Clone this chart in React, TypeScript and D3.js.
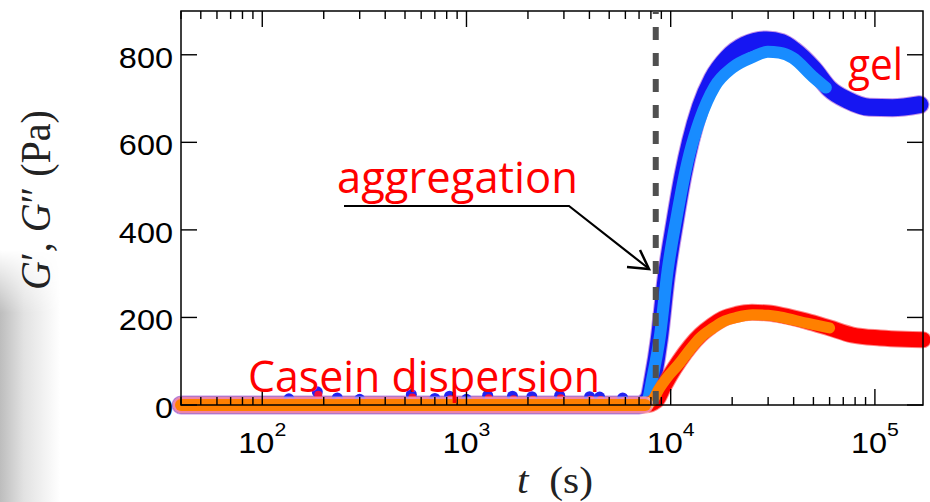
import React from "react";
import * as d3 from "d3";

// G' (two runs) and G'' (two runs), time in seconds, moduli in Pa
const gpDarkT = [40, 1000, 7000, 7800, 8200, 8800, 9500, 10500, 11500, 12500, 14000, 16000, 19000, 23000, 29500, 35000, 40000, 50000, 60000, 73000, 94000, 122000, 166000];
const gpDarkV = [0, 0, 0, 15, 62, 152, 290, 420, 525, 602, 682, 745, 793, 822, 834, 828, 811, 768, 722, 697, 680, 679, 686];

const gpLightT = [40, 1000, 7000, 7700, 8160, 8840, 9670, 10700, 11850, 12400, 13880, 16400, 20000, 25200, 29900, 34000, 39600, 49700, 57500];
const gpLightV = [0, 0, 0, 12, 64, 155, 309, 430, 537, 576, 651, 727, 770, 795, 807, 805, 793, 750, 725];

const gppRedT = [40, 1000, 7500, 8500, 9200, 10000, 11000, 12500, 14000, 16000, 18000, 21000, 25000, 30000, 35000, 46000, 60000, 77500, 106000, 140000, 172000];
const gppRedV = [0, 0, 0, 10, 40, 70, 100, 135, 160, 182, 197, 207, 212, 210, 205, 192, 176, 160, 153, 150, 149];

const gppOrangeT = [40, 1000, 7500, 8200, 8700, 9500, 11070, 12500, 13880, 16000, 18000, 21000, 25200, 30000, 34200, 46400, 60000];
const gppOrangeV = [0, 0, 0, 12, 34, 60, 96, 128, 153, 175, 190, 200, 206, 205, 201, 187, 176];

// scattered points above the baseline before aggregation
const noiseT = [135, 186, 233, 300, 537, 700, 826, 1000, 1270, 1680, 2090, 2860, 4010, 4490, 5820];
const noiseV = [14, 30, 16, 13, 24, 15, 20, 13, 22, 20, 19, 22, 19, 18, 16];

const yTicks = [0, 200, 400, 600, 800];
const xMajor = [100, 1000, 10000, 100000];
const xMajorExp = ["2", "3", "4", "5"];
const aggregationT = 8450;

const W = 930;
const H = 502;
const left = 181, right = 923, top = 11, bottom = 405;

export default function App() {
  const x = d3.scaleLog().domain([40, 172000]).range([left, right]);
  const y = d3.scaleLinear().domain([0, 900]).range([bottom, top]);

  const path = (ts: number[], vs: number[]) =>
    d3
      .line<number>()
      .x((_, i) => x(ts[i]))
      .y((_, i) => y(vs[i]))
      .curve(d3.curveMonotoneX)(ts) || "";

  const minor = x.ticks().filter((t) => !xMajor.includes(t));

  const numFont = "'Liberation Sans', Arial, sans-serif";
  const serif = "'Liberation Serif', 'DejaVu Serif', serif";
  const annFont = "'Open Sans', 'Noto Sans', sans-serif";

  // flat part before aggregation (first three points of the G'' run)
  const base = path(gppOrangeT.slice(0, 3), gppOrangeV.slice(0, 3));

  return (
    <svg
      width={W}
      height={H}
      style={{ position: "absolute", left: 0, top: 0, background: "#fff" }}
    >
      <defs>
        <linearGradient id="shadeH" x1="0" x2="1" y1="0" y2="0">
          <stop offset="0%" stopColor="#bdbdbd" />
          <stop offset="40%" stopColor="#e2e2e2" />
          <stop offset="100%" stopColor="#ffffff" />
        </linearGradient>
        <linearGradient id="shadeV" x1="0" x2="0" y1="0" y2="1">
          <stop offset="0%" stopColor="#000" />
          <stop offset="25%" stopColor="#fff" />
          <stop offset="100%" stopColor="#fff" />
        </linearGradient>
        <mask id="shadeMask">
          <rect x={0} y={250} width={60} height={252} fill="url(#shadeV)" />
        </mask>
      </defs>
      <rect x={0} y={250} width={60} height={252} fill="url(#shadeH)" mask="url(#shadeMask)" />

      {/* data bands */}
      <g fill="none" strokeLinecap="round" strokeLinejoin="round">
        <path d={path(gpDarkT, gpDarkV)} stroke="#8a2ad0" strokeWidth={19} opacity={0.5} />
        <path d={path(gpDarkT, gpDarkV)} stroke="#1616f2" strokeWidth={17} />
        <path d={path(gpLightT, gpLightV)} stroke="#188cff" strokeWidth={12} />
        <path d={path(gppRedT, gppRedV)} stroke="#ff3030" strokeWidth={17} opacity={0.6} />
        <path d={path(gppRedT, gppRedV)} stroke="#ff0000" strokeWidth={15} />
        <path d={path(gppOrangeT, gppOrangeV)} stroke="#ff8000" strokeWidth={11} />
      </g>
      {/* scattered points on the flat baseline */}
      <g>
        {noiseT.map((t, i) => (
          <g key={i}>
            <circle cx={x(t)} cy={y(noiseV[i])} r={5.5} fill="#2323f0" />
            <circle cx={x(t) + 1} cy={y(noiseV[i]) + 3} r={4} fill="#ee1040" />
          </g>
        ))}
      </g>
      <path d={base} stroke="#fff" strokeWidth={17} strokeLinecap="round" fill="none" opacity={0.5} />
      <path d={base} stroke="#e884c4" strokeWidth={15} strokeLinecap="round" fill="none" opacity={0.6} />
      <path d={base} stroke="#ff8000" strokeWidth={12} strokeLinecap="round" fill="none" />

      {/* frame and ticks */}
      <rect x={left} y={top} width={right - left} height={bottom - top} fill="none" stroke="#000" strokeWidth={1.5} />
      <g stroke="#000" strokeWidth={1.4}>
        {yTicks.map((v) => (
          <g key={v}>
            <line x1={left} x2={left + 16} y1={y(v)} y2={y(v)} />
            <line x1={right} x2={right - 16} y1={y(v)} y2={y(v)} />
          </g>
        ))}
        {xMajor.map((t) => (
          <g key={t}>
            <line x1={x(t)} x2={x(t)} y1={bottom} y2={bottom - 16} />
            <line x1={x(t)} x2={x(t)} y1={top} y2={top + 16} />
          </g>
        ))}
        {minor.map((t) => (
          <g key={t}>
            <line x1={x(t)} x2={x(t)} y1={bottom} y2={bottom - 8} />
            <line x1={x(t)} x2={x(t)} y1={top} y2={top + 8} />
          </g>
        ))}
      </g>

      {/* tick labels */}
      {yTicks.map((v) => (
        <text
          key={v}
          transform={`translate(${left - 8},${y(v) + 13}) scale(1.12,1)`}
          textAnchor="end"
          fontFamily={numFont}
          fontSize={29}
          fill="#000"
        >
          {v}
        </text>
      ))}
      {xMajor.map((t, i) => (
        <text
          key={t}
          transform={`translate(${x(t)},453) scale(1.12,1)`}
          textAnchor="middle"
          fontFamily={numFont}
          fontSize={29}
          fill="#000"
        >
          10
          <tspan fontSize={19} dy={-17}>
            {xMajorExp[i]}
          </tspan>
        </text>
      ))}

      {/* axis titles */}
      <text
        transform="translate(50,200) rotate(-90) scale(1,1.08)"
        textAnchor="middle"
        fontFamily={serif}
        fontSize={40}
        fill="#222"
      >
        <tspan fontStyle="italic">G</tspan>
        <tspan>′, </tspan>
        <tspan fontStyle="italic">G</tspan>
        <tspan>″ (Pa)</tspan>
      </text>
      <text
        transform="translate(555,493) scale(1.12,1)"
        textAnchor="middle"
        fontFamily={serif}
        fontSize={37}
        fill="#222"
      >
        <tspan fontStyle="italic">t</tspan>
        <tspan>{"\u2002(s)"}</tspan>
      </text>

      {/* aggregation time */}
      <line
        x1={x(aggregationT)}
        x2={x(aggregationT)}
        y1={top}
        y2={bottom + 2}
        stroke="#505050"
        strokeWidth={6}
        strokeDasharray="13,13"
        strokeDashoffset={10}
      />

      {/* annotations */}
      <path d="M344,206 L569,206 L648,268" fill="none" stroke="#000" strokeWidth={2.2} />
      <path d="M640,250 L649,269 L627,267" fill="none" stroke="#000" strokeWidth={2.5} strokeLinejoin="miter" />
      <text x={337} y={193} fontFamily={annFont} fontSize={44} fill="#ff0000" textLength={241} lengthAdjust="spacingAndGlyphs">
        aggregation
      </text>
      <text x={248} y={392} fontFamily={annFont} fontSize={44} fill="#ff0000" textLength={352} lengthAdjust="spacingAndGlyphs">
        Casein dispersion
      </text>
      <text x={848} y={80} fontFamily={annFont} fontSize={44} fill="#ff0000" textLength={55} lengthAdjust="spacingAndGlyphs">
        gel
      </text>
    </svg>
  );
}
